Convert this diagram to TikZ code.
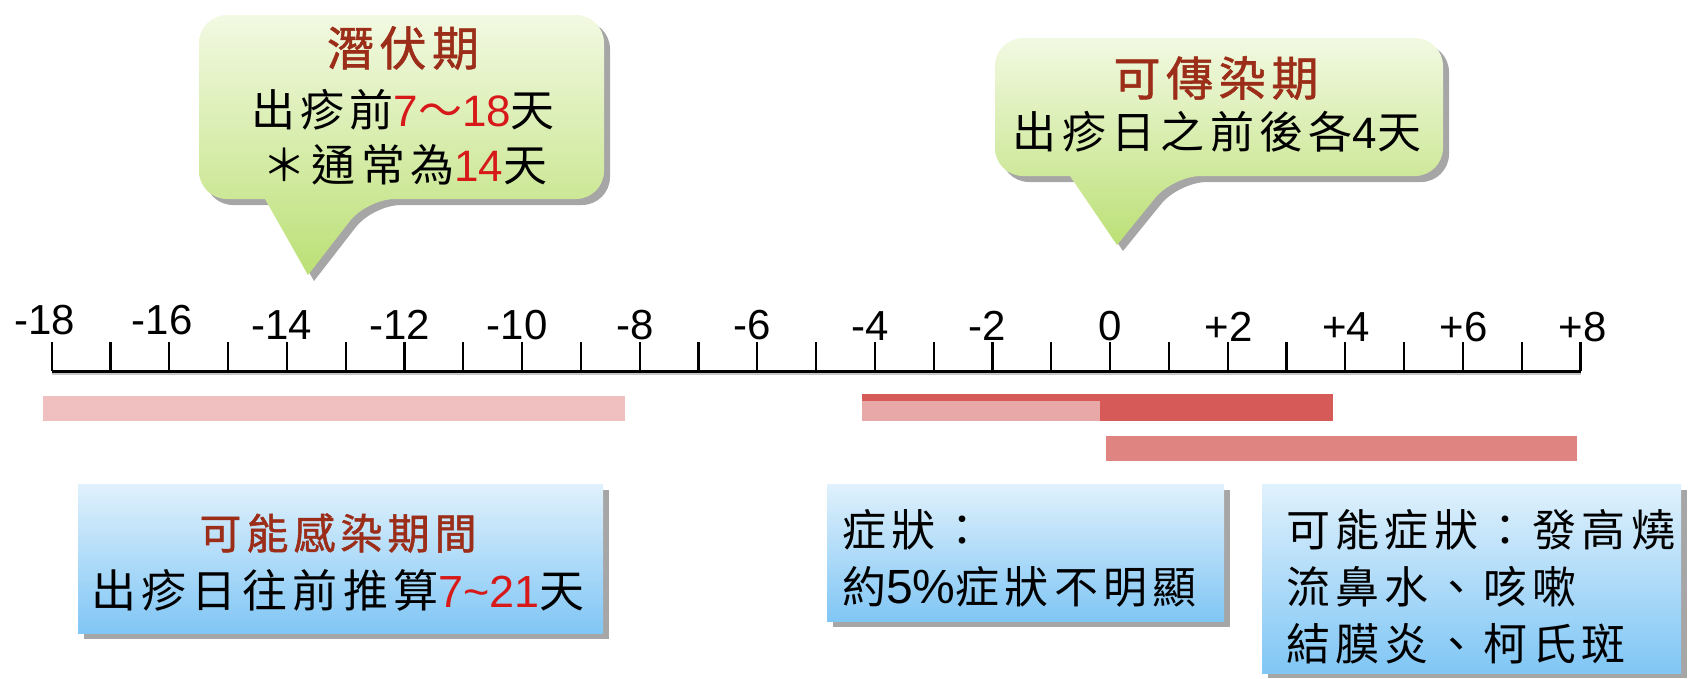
\documentclass[tikz,border=0pt]{standalone}
\usepackage{fontspec}
\setmainfont{Liberation Sans}
\newfontfamily\cjk{Noto Sans CJK TC}[LetterSpace=12]
\newfontfamily\cjkb{Noto Sans CJK TC}[LetterSpace=12, FakeBold=1.2]
\definecolor{titlebrown}{RGB}{155,45,25}
\definecolor{numred}{RGB}{215,25,25}
\definecolor{gtop}{RGB}{242,249,226}
\definecolor{gbot}{RGB}{188,224,118}
\definecolor{btop}{RGB}{224,241,252}
\definecolor{bbot}{RGB}{128,198,245}
\definecolor{shad}{RGB}{150,150,150}
\definecolor{barA}{RGB}{240,192,192}
\definecolor{barB}{RGB}{213,90,88}
\definecolor{barC}{RGB}{232,168,168}
\definecolor{barD}{RGB}{224,132,130}
\newcommand{\zh}[1]{{\cjk #1}}
\newcommand{\rn}[1]{{\color{numred}#1}}
\begin{document}
\begin{tikzpicture}[x=1pt,y=-1pt,
  txt/.style={inner sep=0pt, font=\fontsize{44}{50}\selectfont},
  ttl/.style={inner sep=0pt, text=titlebrown, font=\cjkb\fontsize{47}{52}\selectfont},
  boxtxt/.style={inner sep=0pt, anchor=west, font=\fontsize{44}{50}\selectfont},
  ticklab/.style={inner sep=0pt, font=\fontsize{42}{48}\selectfont},
  tickline/.style={line width=2.2pt},
  shadowfill/.style={fill=shad, opacity=0.85},
  greenfill/.style={top color=gtop, bottom color=gbot},
  bluefill/.style={top color=btop, bottom color=bbot},
]
\useasboundingbox (0,0) rectangle (1688,678);

% ---- callout 1 (incubation) ----
\path[shadowfill, shift={(6,6)}] (199,106) [rounded corners=28pt] -- (199,15) -- (604,15) -- (604,199) -- (367,199) [sharp corners] -- (308,275) -- (265,199) [rounded corners=28pt] -- (199,199) -- cycle;
\path[greenfill] (199,106) [rounded corners=28pt] -- (199,15) -- (604,15) -- (604,199) -- (367,199) [sharp corners] -- (308,275) -- (265,199) [rounded corners=28pt] -- (199,199) -- cycle;

% ---- callout 2 (contagious) ----
\path[shadowfill, shift={(6,6)}] (995,106) [rounded corners=28pt] -- (995,38) -- (1443,38) -- (1443,176) -- (1173,176) [sharp corners] -- (1117,245) -- (1070,176) [rounded corners=28pt] -- (995,176) -- cycle;
\path[greenfill] (995,106) [rounded corners=28pt] -- (995,38) -- (1443,38) -- (1443,176) -- (1173,176) [sharp corners] -- (1117,245) -- (1070,176) [rounded corners=28pt] -- (995,176) -- cycle;

\node[ttl] (c1title) at (403,48) {潛伏期};
\node[txt] (c1l1) at (403,110) {\zh{出疹前}\rn{7\zh{～}18}\zh{天}};
\node[txt] (c1l2) at (405,165) {\zh{＊通常為}\rn{14}\zh{天}};

\node[ttl] (c2title) at (1216,78) {可傳染期};
\node[txt] (c2l1) at (1217,132) {\zh{出疹日之前後各}4\zh{天}};

% ---- axis ----
\coordinate (axL) at (51.7,371);
\coordinate (axR) at (1580.5,371);
\draw[gray!45, line width=2pt] ([yshift=-3pt]axL) -- ([yshift=-3pt]axR);
\draw[line width=3pt] (axL) -- (axR);
\foreach \i in {0,...,26} {
  \draw[tickline] (51.7+\i*58.8,371) -- (51.7+\i*58.8,342);
}
\foreach \i/\lab/\dx/\yy in {0/-18/-7/320, 2/-16/-7/320, 4/-14/-5/325, 6/-12/-5/325, 8/-10/-5/325, 10/-8/-5/325, 12/-6/-5/325, 14/-4/-5/326, 16/-2/-5/326, 18/0/0/326, 20/+2/1/327, 22/+4/1/327, 24/+6/1/327, 26/+8/2/327} {
  \node[ticklab] (lab\i) at (51.7+\i*58.8+\dx,\yy) {\lab};
}

% ---- bars ----
\fill[barA] (43,396) rectangle (625,421);
\fill[barB] (862,394) rectangle (1333,421);
\fill[barC] (862,400.5) rectangle (1100,421);
\fill[barD] (1106,436) rectangle (1577,461);

% ---- blue boxes ----
\fill[shadowfill] (84,490) rectangle (609,639);
\path[bluefill] (78,484) rectangle (603,633);
\fill[shadowfill] (833,490) rectangle (1230,627);
\path[bluefill] (827,484) rectangle (1224,621);
\fill[shadowfill] (1268,490) rectangle (1687,678);
\path[bluefill] (1262,484) rectangle (1681,673);

\node[ttl, font=\cjkb\fontsize{42}{50}\selectfont] (b1title) at (338,533) {可能感染期間};
\node[txt, font=\fontsize{45}{50}\selectfont] (b1l1) at (338,590) {\zh{出疹日往前推算}\rn{7\textasciitilde21}\zh{天}};

\node[boxtxt] (b2l1) at (842,530) {\zh{症狀：}};
\node[boxtxt] (b2l2) at (842,587) {\zh{約}{\fontsize{48}{50}\selectfont 5\%}\zh{症狀不明顯}};

\node[boxtxt] (b3l1) at (1286,530) {\zh{可能症狀：發高燒}};
\node[boxtxt] (b3l2) at (1286,587) {\zh{流鼻水、咳嗽}};
\node[boxtxt] (b3l3) at (1286,644) {\zh{結膜炎、柯氏斑}};
\end{tikzpicture}
\end{document}
